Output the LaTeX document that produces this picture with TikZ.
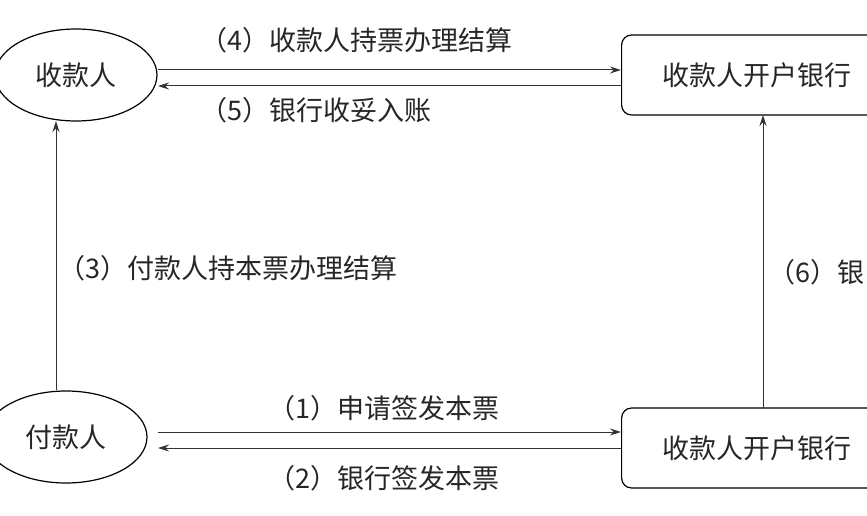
\documentclass[tikz,border=0pt]{standalone}
\usepackage{fontspec}
\newfontfamily\cjk{Noto Sans CJK SC}
\usetikzlibrary{shapes.geometric,arrows.meta}
\begin{document}
\begin{tikzpicture}[x=1pt,y=-1pt,
  every node/.style={font=\cjk\fontsize{27}{30}\selectfont, text=black!85},
  party/.style={draw, ellipse, line width=1.2pt, minimum width=162pt, minimum height=92pt, inner sep=0pt},
  bank/.style={draw, rounded corners=10pt, line width=1.2pt, minimum width=300pt, minimum height=80pt, anchor=west},
  flow/.style={-{Stealth[length=11pt,width=7pt]}, line width=1pt, draw=black!80},
  lbl/.style={inner sep=0pt}]
\useasboundingbox (0,0) rectangle (867,516);
\clip (0,0) rectangle (867,516);
\node[party] (payee) at (76,75) {收款人};
\node[party] (payer) at (66,437) {付款人};
\node[bank] (bankT) at (621,75) {\hspace*{-30pt}收款人开户银行};
\node[bank] (bankB) at (621,448) {\hspace*{-30pt}收款人开户银行};
\coordinate (a1) at (158,70); \coordinate (b1) at (621,70);
\coordinate (a2) at (158,86); \coordinate (b2) at (621,86);
\draw[flow] (a1) -- (b1);
\draw[flow] (b2) -- (a2);
\coordinate (c1) at (158,432); \coordinate (d1) at (621,432);
\coordinate (c2) at (158,448); \coordinate (d2) at (621,448);
\draw[flow] (c1) -- (d1);
\draw[flow] (d2) -- (c2);
\coordinate (v1) at (56,390); \coordinate (v2) at (56,121);
\draw[flow] (v1) -- (v2);
\coordinate (w1) at (763,408); \coordinate (w2) at (763,115);
\draw[flow] (w1) -- (w2);
\node[lbl, anchor=west] (l4) at (200,40) {（4）收款人持票办理结算};
\node[lbl, anchor=west] (l5) at (200,110) {（5）银行收妥入账};
\node[lbl, anchor=west] (l3) at (58,268) {（3）付款人持本票办理结算};
\node[lbl, anchor=west] (l1) at (268,408) {（1）申请签发本票};
\node[lbl, anchor=west] (l2) at (268,478) {（2）银行签发本票};
\node[lbl, anchor=west] (l6) at (768,272) {（6）银};
\end{tikzpicture}
\end{document}
